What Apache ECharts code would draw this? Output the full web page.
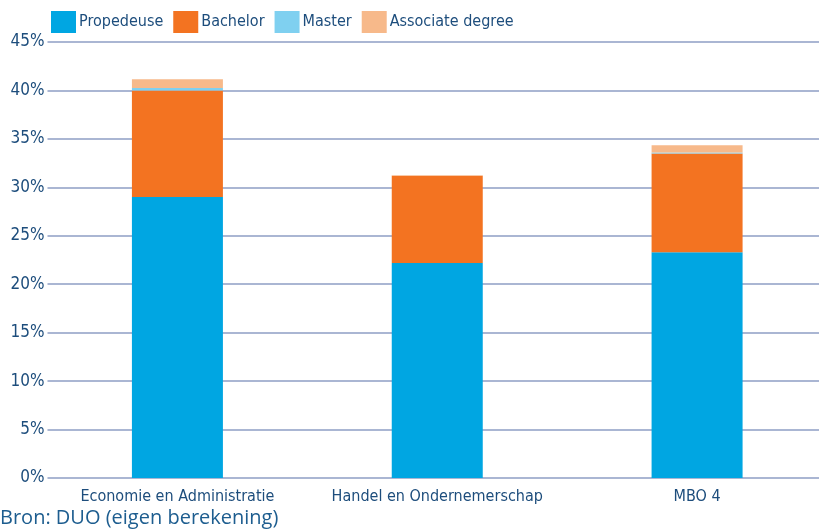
<!DOCTYPE html>
<html>
<head>
<meta charset="utf-8">
<script src="https://cdn.jsdelivr.net/npm/echarts@6/dist/echarts.min.js"></script>
<style>
html,body{margin:0;padding:0;background:#fff;overflow:hidden;}
#c{width:827px;height:532px;}
</style>
</head>
<body>
<div id="c"></div>
<script>
const categories = ['Economie en Administratie', 'Handel en Ondernemerschap', 'MBO 4'];
const propedeuse = [29.0, 22.2, 23.3];
const bachelor = [11.0, 9.0, 10.2];
const master = [0.25, 0, 0.1];
const associate = [0.9, 0.05, 0.75];
const yTicks = [0, 5, 10, 15, 20, 25, 30, 35, 40, 45];

const FONT = "'Liberation Sans Narrow', 'DejaVu Sans Condensed', sans-serif";
const TXT = '#1d4d7c';
const colors = ['#00a6e2', '#f37321', '#7fd0f0', '#f7b98a'];

const chart = echarts.init(document.getElementById('c'), null, {renderer: 'canvas'});
function mk(name, data, i) {
  return {
    name: name, type: 'bar', stack: 'total', data: data, barWidth: 91,
    itemStyle: {color: colors[i]}, emphasis: {disabled: true}
  };
}
chart.setOption({
  animation: false,
  textStyle: {fontFamily: FONT},
  legend: {
    left: 51, top: 11, padding: 0, icon: 'rect', itemWidth: 25, itemHeight: 22, itemGap: 10,
    textStyle: {fontFamily: FONT, fontSize: 16, color: TXT, padding: [0, 0, 0, -2]},
    data: ['Propedeuse', 'Bachelor', 'Master', 'Associate degree']
  },
  grid: {left: 47.5, right: 0, top: 42, bottom: 54, containLabel: false},
  xAxis: {
    type: 'category', data: categories,
    axisLine: {show: false}, axisTick: {show: false},
    axisLabel: {fontFamily: FONT, fontSize: 16, color: TXT, margin: 11, interval: 0}
  },
  yAxis: {
    type: 'value', min: 0, max: 45, interval: 5,
    axisLine: {show: false}, axisTick: {show: false},
    axisLabel: {fontFamily: FONT, fontSize: 17, color: TXT, margin: 3,
      formatter: v => yTicks.includes(v) ? v + '%' : ''},
    splitLine: {lineStyle: {color: '#aab6d3', width: 2}}
  },
  series: [
    mk('Propedeuse', propedeuse, 0),
    mk('Bachelor', bachelor, 1),
    mk('Master', master, 2),
    mk('Associate degree', associate, 3)
  ],
  graphic: [{
    type: 'text', left: 0, top: 508,
    style: {text: 'Bron: DUO (eigen berekening)', font: "20px 'Open Sans', 'Noto Sans', sans-serif", fill: '#1d5d8f'}
  }]
});
</script>
</body>
</html>
